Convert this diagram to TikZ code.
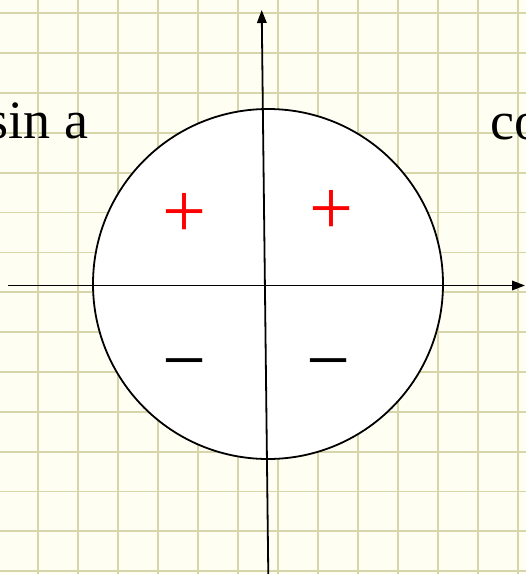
\documentclass[tikz,border=0pt]{standalone}
\usepackage{fontspec}
\setmainfont{Liberation Serif}
\usetikzlibrary{arrows.meta}
\definecolor{paper}{RGB}{254,254,242}
\definecolor{gridc}{RGB}{214,214,170}
\definecolor{signred}{RGB}{255,0,0}
\tikzset{
  gridline/.style={draw=gridc,line width=1.8pt},
  axis/.style={draw=black,line width=1.8pt,-{Triangle[length=13pt,width=9.5pt]}},
  sign/.style={inner sep=0pt,font=\fontsize{78}{80}\selectfont},
  label/.style={inner sep=0pt,font=\fontsize{54}{56}\selectfont},
}
\begin{document}
\begin{tikzpicture}[x=1pt,y=-1pt]
\useasboundingbox (0,0) rectangle (526,574);
\fill[paper] (0,0) rectangle (526,574);
\foreach \k in {0,...,14}{
  \draw[gridline] (0,{13.3+39.85*\k}) -- (526,{13.3+39.85*\k});
}
\foreach \k in {0,...,12}{
  \draw[gridline] ({37.7+40.05*\k},0) -- ({37.7+40.05*\k},574);
}
\node[circle,draw=black,fill=white,line width=1.8pt,minimum size=350pt,inner sep=0pt] (circ) at (268,284) {};
\coordinate (xl) at (8,285.5);
\coordinate (xr) at (525,285.5);
\coordinate (yb) at (268.3,575);
\coordinate (yt) at (261.7,10);
\draw[axis] (xl) -- (xr);
\draw[axis] (yb) -- (yt);
\node[sign,text=signred] (p1) at (184.3,215.3) {+};
\node[sign,text=signred] (p2) at (331,212.5) {+};
\node[sign,text=black] (m1) at (184.6,372.2) {−};
\node[sign,text=black] (m2) at (328.8,372.2) {−};
\node[label,anchor=base east] (sin) at (88.6,138.3) {sin a};
\node[label,anchor=base west] (cos) at (490,139.3) {co};
\end{tikzpicture}
\end{document}
